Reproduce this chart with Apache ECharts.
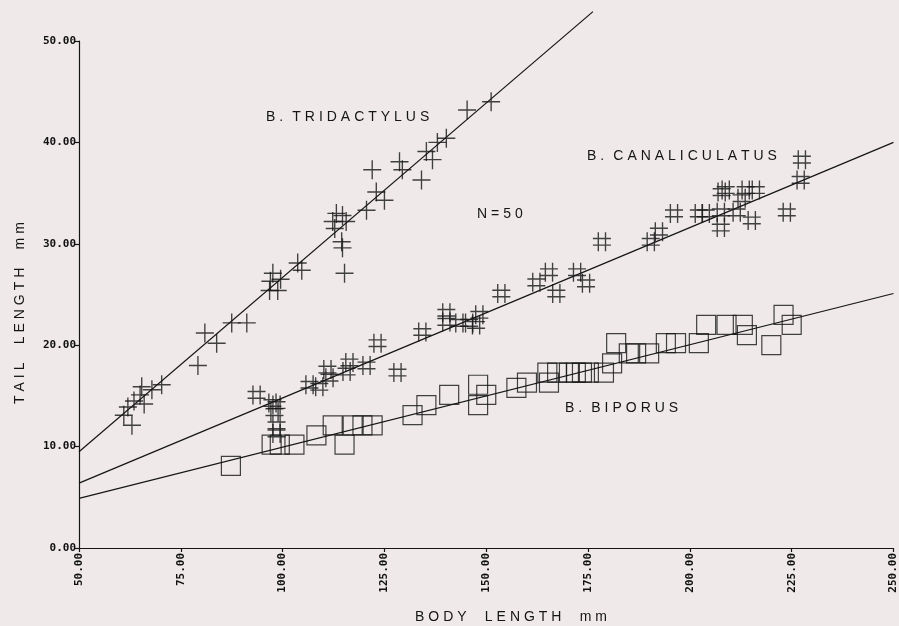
<!DOCTYPE html>
<html>
<head>
<meta charset="utf-8">
<script src="https://cdn.jsdelivr.net/npm/echarts@6/dist/echarts.min.js"></script>
<style>
html,body{margin:0;padding:0;background:#efe9ea;}
#c{width:899px;height:626px;}
</style>
</head>
<body>
<div id="c"></div>
<script>
// ---- data ----
var xTicks = [50, 75, 100, 125, 150, 175, 200, 225, 250];
var yTicks = [0, 10, 20, 30, 40, 50];

var tridactylus = [
  [61,13.1],[63,12.1],[62,13.9],[63.5,14.5],[65,15.1],[65.4,15.9],[66,14.2],[67.9,15.6],[70.3,16.1],
  [79.2,18.0],[80.9,21.2],[83.8,20.2],[87.5,22.2],[91.2,22.2],
  [96.8,25.4],[97.6,27.1],[98.8,25.4],[97,26.3],[99.5,26.5],[103.7,28.1],[104.7,27.4],
  [112.3,32.2],[113.2,33.0],[114.7,32.8],[115.6,32.2],[114.5,30.2],[114.7,29.6],[115.2,27.1],[112.8,31.5],
  [120.6,33.3],[123,35.1],[125,34.3],[122,37.3],[128.7,38.1],[129.4,37.3],
  [134.1,36.3],[135.3,39.1],[136.8,38.3],[138,40.0],[140.2,40.4],[145.3,43.2],[151.2,44.0]
];

var canaliculatus = [
  [93.6,15.1],[97.5,14.3],[98,13.4],[98.5,12.1],[98.5,11.3],[98.5,14.1],
  [106.6,16.1],[109,15.9],[111.5,16.8],[111,17.6],[116.4,18.3],[115.7,17.4],[120.6,18.0],
  [123.3,20.2],[128.2,17.3],[134.3,21.3],[140.2,23.2],[140.2,22.3],[143.4,22.2],[145.8,22.2],
  [148.3,23.0],[147.5,22.0],[153.7,25.1],[162.3,26.2],[165.4,27.2],[167.2,25.1],[172.3,27.2],
  [174.5,26.1],[178.4,30.2],[190.4,30.2],[192.4,31.2],[196.1,33.0],
  [202.2,33.0],[203.9,33.0],[207.6,33.1],[207.6,31.6],[207.8,35.1],[208.8,35.3],[211.5,33.1],
  [212.7,34.5],[213.7,35.3],[215.2,32.3],[216.2,35.3],[223.8,33.1],[227.2,36.3],[227.5,38.3]
];

var biporus = [
  [87.3,8.1],[97.3,10.2],[99.3,10.2],[102.9,10.2],[108.3,11.1],[112.3,12.1],[115.2,10.2],
  [117.2,12.1],[119.6,12.1],[122.1,12.1],[131.9,13.1],[135.3,14.1],[140.9,15.1],
  [148,16.1],[148,14.1],[150,15.1],[157.4,15.8],[160,16.3],[165,17.3],[165.4,16.3],[167.4,17.3],
  [170.3,17.3],[172,17.3],[173.5,17.3],[175.2,17.3],[178.9,17.3],[180.9,18.2],[181.9,20.2],
  [185,19.2],[186.8,19.2],[190,19.2],[194.1,20.2],[196.6,20.2],[202.2,20.2],
  [204,22],[209,22],[213,22],[214,21],[220,20],[223,23],[225,22]
];

var tridLine = [[50,9.5],[176.2,52.9]];
var canaLine = [[50,6.4],[250,40.0]];
var bipoLine = [[50,4.9],[250,25.1]];

var labels = [
  {text:'B. TRIDACTYLUS', x:266, y:118},
  {text:'N=50', x:477, y:215},
  {text:'B. CANALICULATUS', x:587, y:157},
  {text:'B. BIPORUS', x:565, y:409}
];

// ---- helpers ----
var gap = '\u2009\u200A';
function spaced(s){
  return s.split(' ').map(function(w){return w.split('').join(gap);}).join(gap + gap + '\u200A');
}
var ink = '#151515';
var plusPath = 'path://M10,0 L10,20 M0,10 L20,10';
var hashPath = 'path://M6,0 L6,20 M14,0 L14,20 M0,6.5 L20,6.5 M0,13.5 L20,13.5';

var chart = echarts.init(document.getElementById('c'), null, {renderer:'canvas'});

var textFont = '14px "Liberation Sans", Arial, sans-serif';
var graphics = labels.map(function(l){
  return {type:'text', left:l.x, top:l.y - 8, style:{text:spaced(l.text), font:textFont, fill:ink}};
});
graphics.push({type:'text', left:415, top:610, style:{text:spaced('BODY  LENGTH  mm'), font:textFont, fill:ink}});
graphics.push({type:'text', x:13, y:404, rotation:Math.PI/2, style:{text:spaced('TAIL  LENGTH  mm'), font:textFont, fill:ink}});

var tickFont = {fontFamily:'"DejaVu Sans Mono", monospace', fontWeight:'bold', fontSize:11, color:'#111'};

chart.setOption({
  backgroundColor:'#efe9ea',
  animation:false,
  grid:{left:79, right:4, top:41, bottom:78, containLabel:false},
  xAxis:{
    type:'value', min:xTicks[0], max:xTicks[xTicks.length-1], interval:25,
    splitLine:{show:false},
    axisLine:{lineStyle:{color:ink, width:1.2}},
    axisTick:{length:4, lineStyle:{color:ink, width:1.2}},
    axisLabel:Object.assign({rotate:90, margin:5, formatter:function(v){return v.toFixed(2);}}, tickFont)
  },
  yAxis:{
    type:'value', min:yTicks[0], max:yTicks[yTicks.length-1], interval:10,
    splitLine:{show:false},
    axisLine:{show:true, lineStyle:{color:ink, width:1.2}},
    axisTick:{show:true, length:4, lineStyle:{color:ink, width:1.2}},
    axisLabel:Object.assign({margin:3, formatter:function(v){return v.toFixed(2);}}, tickFont)
  },
  graphic:graphics,
  series:[
    {type:'line', data:tridLine, clip:false, symbol:'none', lineStyle:{color:ink, width:1.2}, z:3},
    {type:'line', data:canaLine, clip:false, symbol:'none', lineStyle:{color:ink, width:1.2}, z:3},
    {type:'line', data:bipoLine, clip:false, symbol:'none', lineStyle:{color:ink, width:1.2}, z:3},
    {type:'scatter', data:tridactylus, symbol:plusPath, symbolSize:[18,19],
      itemStyle:{color:'rgba(0,0,0,0)', borderColor:ink, borderWidth:1.4}},
    {type:'scatter', data:canaliculatus, symbol:hashPath, symbolSize:[18,19],
      itemStyle:{color:'rgba(0,0,0,0)', borderColor:ink, borderWidth:1.4}},
    {type:'scatter', data:biporus, symbol:'rect', symbolSize:19,
      itemStyle:{color:'rgba(0,0,0,0)', borderColor:ink, borderWidth:1.2}}
  ]
});
</script>
</body>
</html>
